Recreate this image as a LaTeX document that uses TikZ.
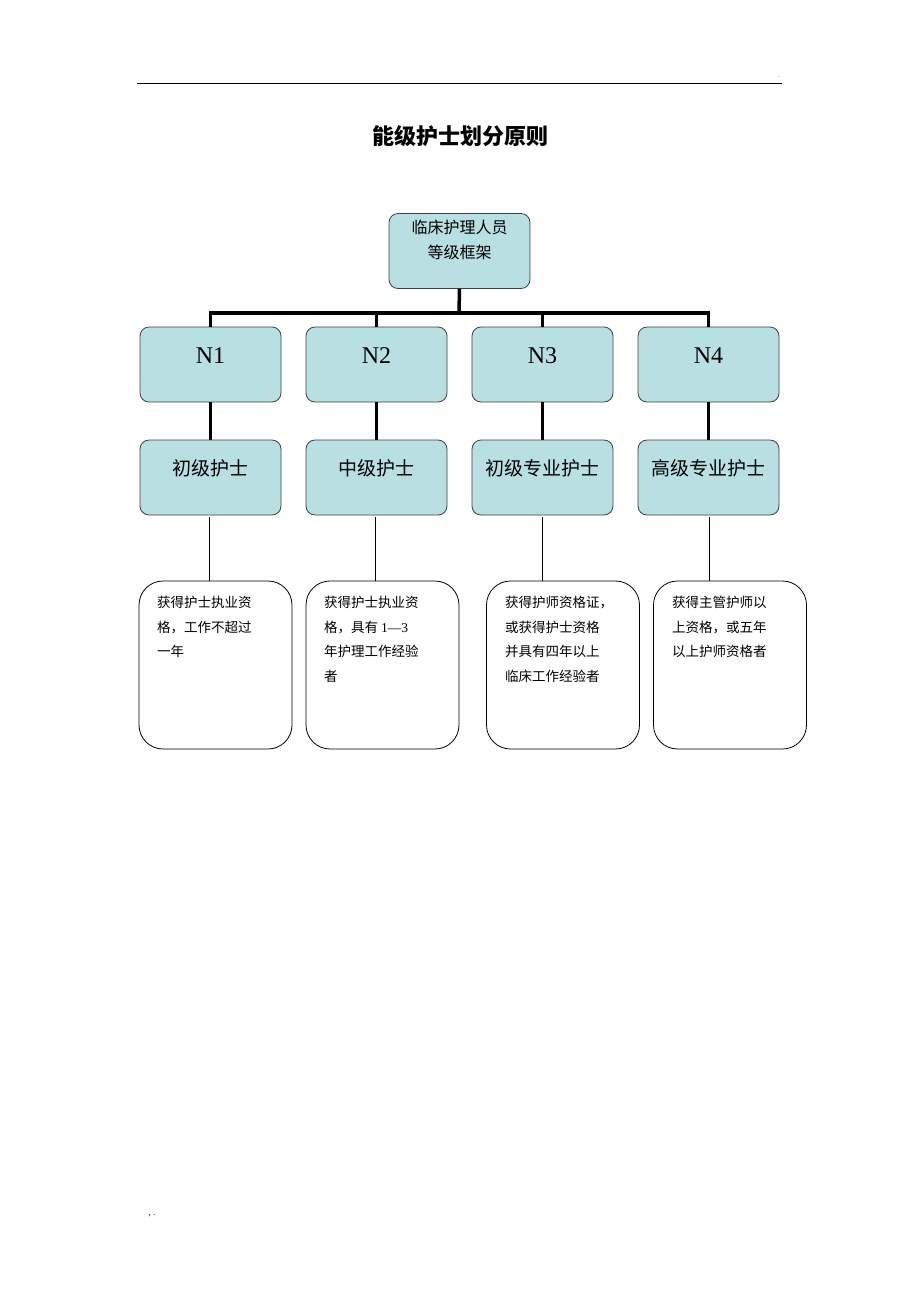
\documentclass[tikz,border=0pt]{standalone}
\usepackage{fontspec}
\setmainfont{Liberation Serif}
\newfontfamily\cjk{Noto Sans CJK SC}
\begin{document}
\begin{tikzpicture}[x=1pt,y=-1pt,
  box/.style={draw=black!75,line width=0.8pt,fill={rgb,255:red,184;green,224;blue,227},rounded corners=9pt,minimum width=141pt,minimum height=75pt,inner sep=0pt},
  dbox/.style={draw=black,line width=0.8pt,rounded corners=24pt,minimum width=153pt,minimum height=168pt,inner sep=0pt},
  desc/.style={anchor=north west,align=left,inner sep=0pt,font=\cjk\fontsize{13.5}{24.5}\selectfont},
  thick line/.style={line width=3.5pt},
  thin line/.style={line width=0.6pt}]
\useasboundingbox (0,0) rectangle (920,1302);
\draw[line width=0.8pt] (137,83) -- (782,83);
\node (dot) at (779,77) {\tiny .};
\node (marks) at (152,1216) {\small ,\ .};
\node (title) at (460,136) {\cjk\bfseries\fontsize{22}{24}\selectfont 能级护士划分原则};
\node[box] (top) at (459.5,251) {};
\node[align=center,anchor=north,font=\cjk\fontsize{16}{25}\selectfont] (toptext) at (459.5,216) {临床护理人员\\等级框架};
\coordinate (bus) at (459,313);
\foreach \i/\x/\lv in {1/210.5/初级护士, 2/376.5/中级护士, 3/542.5/初级专业护士, 4/708.5/高级专业护士}{
  \node[box] (n\i) at (\x,364.5) {};
  \node (nt\i) at (\x,356) {\fontsize{24}{24}\selectfont N\i};
  \node[box] (l\i) at (\x,477.5) {};
  \node (lt\i) at (\x,468) {\cjk\fontsize{19}{19}\selectfont \lv};
}
\node[dbox] (d1) at (215.5,665) {};
\node[dbox] (d2) at (382.5,665) {};
\node[dbox] (d3) at (563,665) {};
\node[dbox] (d4) at (730,665) {};
\node[desc] (dt1) at (157,596) {获得护士执业资\\格，工作不超过\\一年};
\node[desc] (dt2) at (324,596) {获得护士执业资\\格，具有 {\rmfamily 1—3}\\年护理工作经验\\者};
\node[desc] (dt3) at (505,596) {获得护师资格证，\\或获得护士资格\\并具有四年以上\\临床工作经验者};
\node[desc] (dt4) at (672,596) {获得主管护师以\\上资格，或五年\\以上护师资格者};
\draw[thick line] (top.south) -- (bus);
\draw[thick line] (n1.north) -- (n1.north |- bus) -- (n4.north |- bus) -- (n4.north);
\foreach \i in {2,3} \draw[thick line] (n\i.north |- bus) -- (n\i.north);
\foreach \i in {1,...,4} \draw[thick line] (n\i.south) -- (l\i.north);
\foreach \i/\x in {1/209,2/375,3/542,4/709} {
  \coordinate (t\i) at (\x,517);
  \draw[thin line] (t\i) -- (t\i |- d\i.north);
}
\end{tikzpicture}
\end{document}
